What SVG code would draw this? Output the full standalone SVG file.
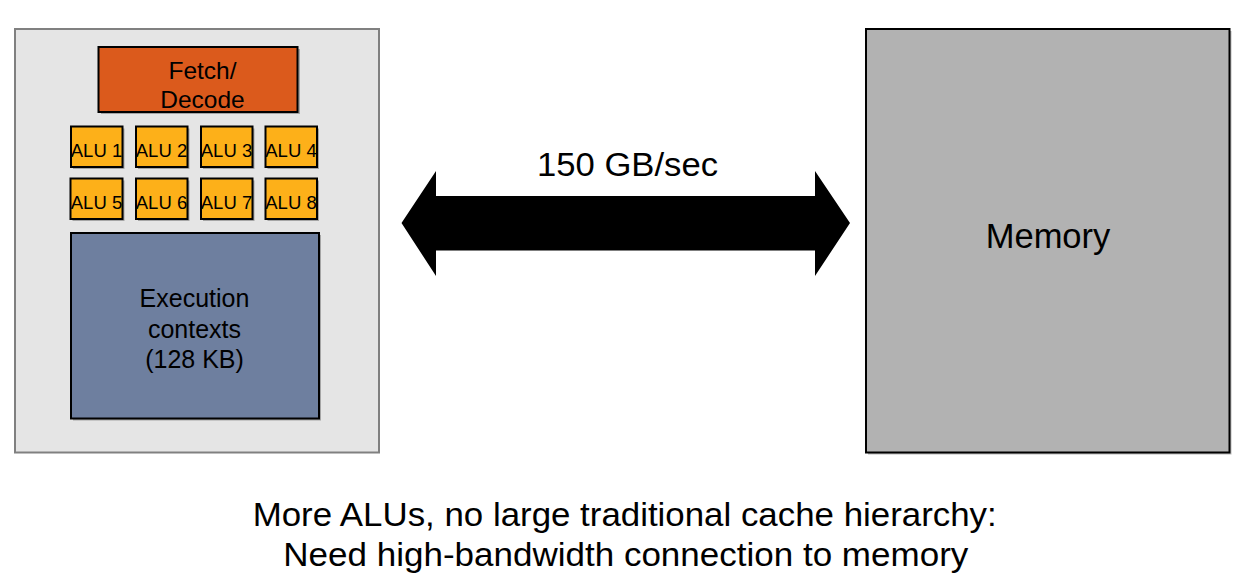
<svg xmlns="http://www.w3.org/2000/svg" width="1251" height="584" viewBox="0 0 1251 584">
<style>
text{font-family:"Liberation Sans",Arial,sans-serif;fill:#000;text-anchor:middle}
.alu{fill:#fdb019;stroke:#000;stroke-width:2}
.alut{font-size:18.5px}
.sh{fill:#000;opacity:0.28}
.big{font-size:34px}
.mid{font-size:25px}
</style>
<rect width="1251" height="584" fill="#fff"/>
<g id="core">
<rect x="15" y="29" width="364" height="423.5" fill="#e5e5e5" stroke="#808080" stroke-width="2"/>
</g>
<g id="fetch">
<rect class="sh" x="101" y="49" width="199" height="65"/>
<rect x="98.5" y="47" width="199" height="65" fill="#db5a1c" stroke="#000" stroke-width="2"/>
<text x="202.5" y="79" font-size="24.5">Fetch/</text>
<text x="202.5" y="108" font-size="24.5">Decode</text>
</g>
<g id="alu1"><rect class="sh" x="73" y="128.5" width="51.5" height="40.5"/><rect class="alu" x="71" y="126.5" width="51.5" height="40.5"/><text class="alut" x="96.5" y="157">ALU 1</text></g>
<g id="alu2"><rect class="sh" x="138" y="128.5" width="51.5" height="40.5"/><rect class="alu" x="136" y="126.5" width="51.5" height="40.5"/><text class="alut" x="161.5" y="157">ALU 2</text></g>
<g id="alu3"><rect class="sh" x="203" y="128.5" width="51.5" height="40.5"/><rect class="alu" x="201" y="126.5" width="51.5" height="40.5"/><text class="alut" x="226.5" y="157">ALU 3</text></g>
<g id="alu4"><rect class="sh" x="267.5" y="128.5" width="51.5" height="40.5"/><rect class="alu" x="265.5" y="126.5" width="51.5" height="40.5"/><text class="alut" x="291" y="157">ALU 4</text></g>
<g id="alu5"><rect class="sh" x="72.5" y="180.5" width="52" height="40.5"/><rect class="alu" x="70.5" y="178.5" width="52" height="40.5"/><text class="alut" x="96.5" y="209">ALU 5</text></g>
<g id="alu6"><rect class="sh" x="138" y="180.5" width="51.5" height="40.5"/><rect class="alu" x="136" y="178.5" width="51.5" height="40.5"/><text class="alut" x="161.5" y="209">ALU 6</text></g>
<g id="alu7"><rect class="sh" x="203" y="180.5" width="51.5" height="40.5"/><rect class="alu" x="201" y="178.5" width="51.5" height="40.5"/><text class="alut" x="226.5" y="209">ALU 7</text></g>
<g id="alu8"><rect class="sh" x="267.5" y="180.5" width="51.5" height="40.5"/><rect class="alu" x="265.5" y="178.5" width="51.5" height="40.5"/><text class="alut" x="291" y="209">ALU 8</text></g>
<g id="exec">
<rect class="sh" x="73" y="235" width="248" height="185.5"/>
<rect x="71" y="233" width="248" height="185.5" fill="#6e7f9f" stroke="#000" stroke-width="2"/>
<text class="mid" x="194.5" y="307">Execution</text>
<text class="mid" x="194.5" y="338">contexts</text>
<text class="mid" x="194.5" y="368">(128 KB)</text>
</g>
<g id="memory">
<rect class="sh" x="868" y="31" width="363.5" height="423.5"/>
<rect x="866" y="29" width="363.5" height="423.5" fill="#b2b2b2" stroke="#000" stroke-width="2"/>
<text x="1048" y="248" font-size="34.5">Memory</text>
</g>
<g id="connectors">
<polygon points="401.5,223 436,171 436,196 815,196 815,171 850,223 815,276 815,250.5 436,250.5 436,276" fill="#000"/>
<text class="big" x="627.5" y="176" textLength="181" lengthAdjust="spacingAndGlyphs">150 GB/sec</text>
</g>
<g id="caption">
<text class="big" x="624.7" y="526" textLength="744" lengthAdjust="spacingAndGlyphs">More ALUs, no large traditional cache hierarchy:</text>
<text class="big" x="625.8" y="566" textLength="685" lengthAdjust="spacingAndGlyphs">Need high-bandwidth connection to memory</text>
</g>
</svg>
